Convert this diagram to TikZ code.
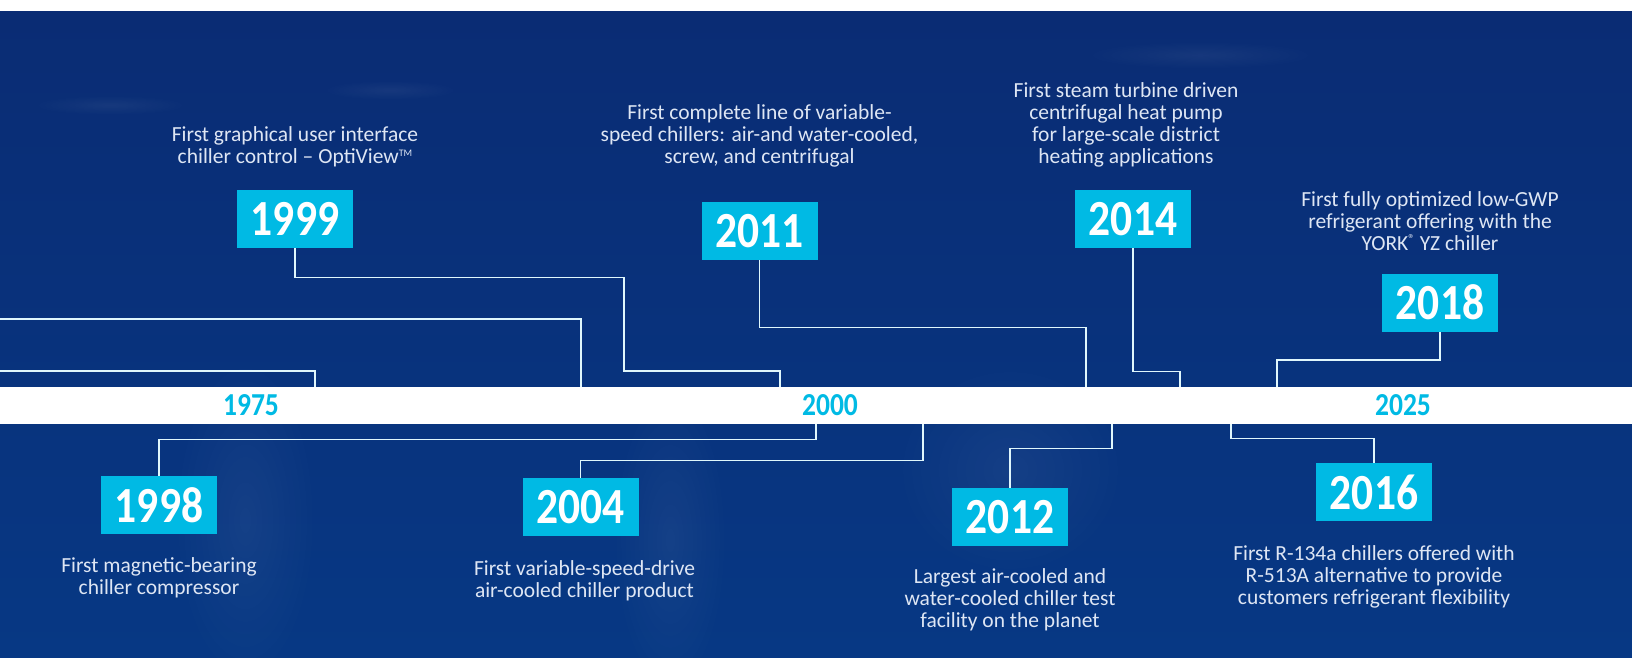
\documentclass[tikz,border=0pt]{standalone}
\usepackage{fontspec}
\setmainfont{Carlito}
\newfontfamily\yearfont[FakeStretch=0.86]{Carlito}
\usetikzlibrary{positioning,calc,fadings}

\definecolor{navytop}{RGB}{10,44,116}
\definecolor{navymid}{RGB}{8,74,152}
\definecolor{navybot}{RGB}{7,56,132}
\definecolor{jcicyan}{RGB}{0,186,228}
\definecolor{desctext}{RGB}{222,230,244}
\newcommand{\supmark}[1]{\raisebox{3.6pt}{\fontsize{5pt}{5pt}\selectfont#1}}
\tikzfading[name=softglow, inner color=transparent!10, outer color=transparent!100]

\begin{document}
\begin{tikzpicture}[x=0.5pt, y=-0.5pt,
		yearbox/.style={fill=jcicyan, text=white, inner sep=0pt,
				minimum width=58pt, minimum height=29pt,
				font=\yearfont\bfseries\fontsize{25.3pt}{26pt}\selectfont},
		desc/.style={text=desctext, align=center, inner sep=0pt,
				font=\fontsize{10.75pt}{11pt}\selectfont},
		tick/.style={text=jcicyan, inner sep=0pt,
				font=\yearfont\bfseries\fontsize{16pt}{16pt}\selectfont},
		conn/.style={draw=white!88!jcicyan, line width=0.75pt},
		glow/.style={fill=white, opacity=0.06, path fading=softglow}
		]
		\useasboundingbox (0,0) rectangle (1632,658);
		% backdrop
		\fill[white] (0,0) rectangle (1632,12);
		\shade[top color=navytop, middle color=navymid, bottom color=navybot]
		(0,12) rectangle (1632,658);
		\fill[glow] (245,520) ellipse (75 and 170);
		\fill[glow] (670,540) ellipse (60 and 160);
		\fill[glow] (1010,470) ellipse (120 and 110);
		\fill[glow] (110,105) ellipse (80 and 10);
		\fill[glow] (390,90) ellipse (70 and 10);
		\fill[glow] (1200,55) ellipse (120 and 14);
		% timeline band
		\node[fill=white, inner sep=0pt, minimum width=816pt, minimum height=18.5pt]
		(band) at (816,405.5) {};
		\node[tick] (t1975) at (251,405) {1975};
		\node[tick] (t2000) at (830,405) {2000};
		\node[tick] (t2025) at (1403,405) {2025};
		% years above the band
		\node[yearbox] (y1999) at (295,219) {1999};
		\node[yearbox] (y2011) at (759.5,231) {2011};
		\node[yearbox] (y2014) at (1133,219) {2014};
		\node[yearbox] (y2018) at (1440,302.5) {2018};
		\node[desc, above=11pt of y1999] (d1999)
		{First graphical user interface\\chiller control -- OptiView\supmark{TM}};
		\node[desc, above=17pt of y2011] (d2011)
		{First complete line of variable-\\speed chillers: air-and water-cooled,\\screw, and centrifugal};
		\node[desc, above=11pt of y2014, xshift=-3.5pt] (d2014)
		{First steam turbine driven\\centrifugal heat pump\\for large-scale district\\heating applications};
		\node[desc, above=11pt of y2018, xshift=-5pt] (d2018)
		{First fully optimized low-GWP\\refrigerant offering with the\\YORK\supmark{\fontsize{6.5pt}{6.5pt}\selectfont ®} YZ chiller};
		% years below the band
		\node[yearbox] (y1998) at (159,505) {1998};
		\node[yearbox] (y2004) at (580.5,507) {2004};
		\node[yearbox] (y2012) at (1010,517) {2012};
		\node[yearbox] (y2016) at (1374,492) {2016};
		\node[desc, below=11.5pt of y1998] (d1998)
		{First magnetic-bearing\\chiller compressor};
		\node[desc, below=12pt of y2004, xshift=2pt] (d2004)
		{First variable-speed-drive\\air-cooled chiller product};
		\node[desc, below=11pt of y2012] (d2012)
		{Largest air-cooled and\\water-cooled chiller test\\facility on the planet};
		\node[desc, below=12pt of y2016] (d2016)
		{First R-134a chillers offered with\\R-513A alternative to provide\\customers refrigerant flexibility};
		% where the leaders meet the band
		\coordinate (offA) at (0,319);
		\coordinate (offB) at (0,371);
		\coordinate (bA) at (581,387);
		\coordinate (bB) at (315,387);
		\coordinate (b1999) at (780,387);
		\coordinate (b2011) at (1086,387);
		\coordinate (b2014) at (1180,387);
		\coordinate (b2018) at (1277,387);
		\coordinate (b1998) at (816,424);
		\coordinate (b2004) at (923,424);
		\coordinate (b2012) at (1112,424);
		\coordinate (b2016) at (1231,424);
		\draw[conn] (offA) -| (bA);
		\draw[conn] (offB) -| (bB);
		\draw[conn] (y1999.south) -- ++(0,29) -| (624,371) -| (b1999);
		\draw[conn] (y2011.south) -- ++(0,67) -| (b2011);
		\draw[conn] (y2014.south) -- ++(0,123) -| (b2014);
		\draw[conn] (y2018.south) -- ++(0,28) -| (b2018);
		\draw[conn] (y1998.north) -- ++(0,-36) -| (b1998);
		\draw[conn] (y2004.north) -- ++(0,-17) -| (b2004);
		\draw[conn] (y2012.north) -- ++(0,-39) -| (b2012);
		\draw[conn] (y2016.north) -- ++(0,-24) -| (b2016);
	\end{tikzpicture}
\end{document}
